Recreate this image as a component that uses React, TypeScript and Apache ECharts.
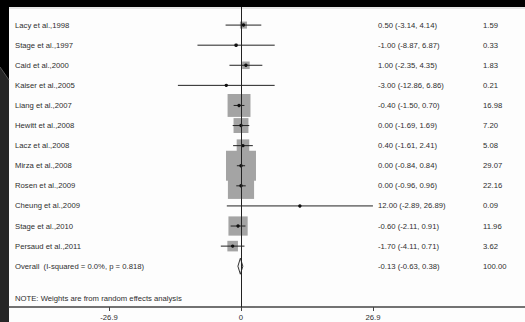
import React, { useEffect, useRef } from "react";
import * as echarts from "echarts";

const studies = [
  "Lacy et al.,1998",
  "Stage et al.,1997",
  "Caid et al.,2000",
  "Kaiser et al.,2005",
  "Liang et al.,2007",
  "Hewitt et al.,2008",
  "Lacz et al.,2008",
  "Mirza et al.,2008",
  "Rosen et al.,2009",
  "Cheung et al.,2009",
  "Stage et al.,2010",
  "Persaud et al.,2011",
];
const estimates = [0.5, -1.0, 1.0, -3.0, -0.4, 0.0, 0.4, 0.0, 0.0, 12.0, -0.6, -1.7];
const lowerCI = [-3.14, -8.87, -2.35, -12.86, -1.5, -1.69, -1.61, -0.84, -0.96, -2.89, -2.11, -4.11];
const upperCI = [4.14, 6.87, 4.35, 6.86, 0.7, 1.69, 2.41, 0.84, 0.96, 26.89, 0.91, 0.71];
const weights = [1.59, 0.33, 1.83, 0.21, 16.98, 7.2, 5.08, 29.07, 22.16, 0.09, 11.96, 3.62];

const overallEst = -0.13;
const overallLo = -0.63;
const overallHi = 0.38;
const overallWeight = 100.0;
const overallLabel = "Overall  (I-squared = 0.0%, p = 0.818)";
const noteText = "NOTE: Weights are from random effects analysis";
const xTickValues = [-26.89, 0, 26.89];

const fmt = (v: number) => v.toFixed(2);
const FONT = "Liberation Sans, Arial, sans-serif";
const TXT = "#2e2e2e";
const FS = 7.7;

export default function App() {
  const ref = useRef<HTMLDivElement>(null);
  useEffect(() => {
    if (!ref.current) return;
    const chart = echarts.init(ref.current, null, { renderer: "svg" });
    const studyData = studies.map((_, i) => [i, estimates[i], lowerCI[i], upperCI[i], weights[i]]);
    const textStyle = (x: number, y: number, text: string, align = "left") => ({
      type: "text",
      style: {
        x,
        y,
        text,
        fill: TXT,
        fontSize: FS,
        fontFamily: FONT,
        align,
        verticalAlign: "middle",
        textAlign: align,
        textVerticalAlign: "middle",
      },
    });
    chart.setOption({
      animation: false,
      backgroundColor: "#000",
      graphic: {
        elements: [
          { type: "rect", z: -10, shape: { x: 9, y: 7, width: 516, height: 315 }, style: { fill: "#fdfdfd" } },
          { type: "rect", z: -9, shape: { x: 9, y: 7, width: 516, height: 2 }, style: { fill: "#e6e6e6" } },
          {
            type: "polygon",
            z: -10,
            shape: { points: [[0, 67], [9, 80], [9, 322], [0, 322]] },
            style: { fill: "#262626" },
          },
          { type: "line", z: -9, shape: { x1: 0, y1: 67, x2: 9, y2: 80 }, style: { stroke: "#555", lineWidth: 1 } },
        ],
      },
      grid: { left: 9, right: 0, top: 7, bottom: 15, containLabel: false },
      xAxis: {
        type: "value",
        position: "bottom",
        min: -47.28,
        max: 57.88,
        splitLine: { show: false },
        axisLine: { show: true, onZero: false, lineStyle: { color: "#444", width: 1.5 } },
        axisTick: { show: true, length: 4, customValues: xTickValues, lineStyle: { color: "#444" } },
        axisLabel: {
          customValues: xTickValues,
          formatter: (v: number) => (Math.abs(v) < 1e-9 ? "0" : v.toFixed(1)),
          fontSize: FS,
          fontFamily: FONT,
          color: TXT,
          margin: 6,
        },
      },
      yAxis: { type: "value", min: -0.9, max: 14.03, inverse: true, show: false },
      series: [
        {
          type: "line",
          data: [],
          z: 1,
          markLine: {
            silent: true,
            symbol: "none",
            label: { show: false },
            lineStyle: { color: "#222", width: 1, type: "solid" },
            data: [{ xAxis: 0 }],
          },
        },
        {
          type: "custom",
          z: 3,
          data: studyData,
          renderItem: (params: any, api: any) => {
            const i = api.value(0);
            const est = api.value(1);
            const lo = api.value(2);
            const hi = api.value(3);
            const w = api.value(4);
            const pE = api.coord([est, i]);
            const pL = api.coord([lo, i]);
            const pH = api.coord([hi, i]);
            const s = 5.56 * Math.sqrt(w);
            return {
              type: "group",
              children: [
                { type: "rect", shape: { x: pE[0] - s / 2, y: pE[1] - s / 2, width: s, height: s }, style: { fill: "#a4a4a4" } },
                { type: "line", shape: { x1: pL[0], y1: pL[1], x2: pH[0], y2: pH[1] }, style: { stroke: "#222", lineWidth: 1 } },
                { type: "circle", shape: { cx: pE[0], cy: pE[1], r: 1.7 }, style: { fill: "#111" } },
                textStyle(15, pE[1], studies[params.dataIndex]),
                textStyle(378, pE[1], `${fmt(est)} (${fmt(lo)}, ${fmt(hi)})`),
                textStyle(483, pE[1], w.toFixed(2)),
              ],
            };
          },
        },
        {
          type: "custom",
          z: 3,
          data: [[12, overallEst, overallLo, overallHi, overallWeight]],
          renderItem: (_params: any, api: any) => {
            const i = api.value(0);
            const est = api.value(1);
            const lo = api.value(2);
            const hi = api.value(3);
            const pE = api.coord([est, i]);
            const pL = api.coord([lo, i]);
            const pH = api.coord([hi, i]);
            const pN = api.coord([0, 13.6]);
            const h = 8;
            return {
              type: "group",
              children: [
                {
                  type: "polygon",
                  shape: { points: [[pL[0], pE[1]], [pE[0], pE[1] - h], [pH[0], pE[1]], [pE[0], pE[1] + h]] },
                  style: { fill: "#f2f2f2", stroke: "#333", lineWidth: 1 },
                },
                textStyle(15, pE[1], overallLabel),
                textStyle(378, pE[1], `${fmt(est)} (${fmt(lo)}, ${fmt(hi)})`),
                textStyle(483, pE[1], api.value(4).toFixed(2)),
                textStyle(15, pN[1], noteText),
              ],
            };
          },
        },
      ],
    });
    return () => chart.dispose();
  }, []);
  return <div ref={ref} style={{ position: "fixed", left: 0, top: 0, width: 525, height: 322 }} />;
}
